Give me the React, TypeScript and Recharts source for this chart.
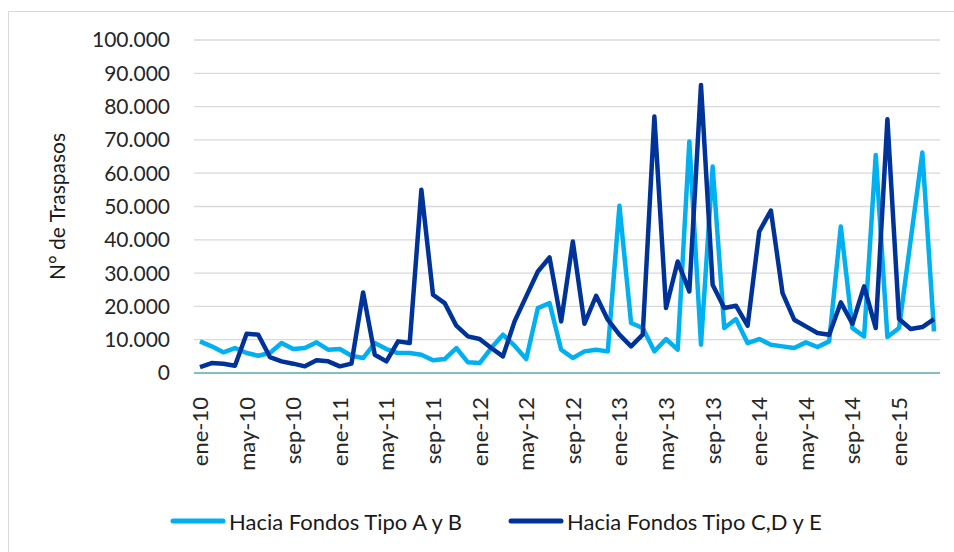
import { LineChart, Line, XAxis, YAxis, CartesianGrid, Legend } from 'recharts';

const MONTHS = ['ene', 'feb', 'mar', 'abr', 'may', 'jun', 'jul', 'ago', 'sep', 'oct', 'nov', 'dic'];
const YEARS = ['10', '11', '12', '13', '14', '15'];
const PERIODS = YEARS.flatMap(y => MONTHS.map(m => `${m}-${y}`)).slice(0, 64);

// Hacia Fondos Tipo A y B
const TIPO_AB = [
  9500, 8000, 6200, 7500, 6000, 5200, 6000, 9000, 7200, 7500, 9200, 7000,
  7200, 5200, 4500, 9000, 7200, 6000, 6000, 5500, 3800, 4200, 7500, 3200,
  3000, 7500, 11500, 8200, 4200, 19500, 21000, 7000, 4500, 6500, 7000, 6500,
  50200, 15000, 13500, 6500, 10200, 7000, 69500, 8500, 62000, 13500, 16200, 9000,
  10200, 8500, 8000, 7500, 9200, 7800, 9500, 44000, 13500, 11000, 65500, 10800,
  13500, 40000, 66200, 12500,
];

// Hacia Fondos Tipo C,D y E
const TIPO_CDE = [
  1800, 3000, 2800, 2200, 11800, 11500, 4800, 3500, 2800, 2000, 3800, 3500,
  2000, 2800, 24200, 5500, 3500, 9500, 9000, 55000, 23500, 21000, 14200, 11000,
  10200, 7500, 5000, 15500, 23000, 30500, 34700, 15500, 39500, 14800, 23200, 16000,
  11500, 8000, 11500, 77000, 19500, 33500, 24500, 86500, 26500, 19500, 20200, 14200,
  42500, 48800, 24000, 16000, 14000, 12000, 11500, 21200, 14800, 26000, 13500, 76200,
  16200, 13200, 13800, 16200,
];

const Y_TICKS = [0, 10000, 20000, 30000, 40000, 50000, 60000, 70000, 80000, 90000, 100000];

const SERIES = [
  { key: 'ab', name: 'Hacia Fondos Tipo A y B', color: '#00B0F0' },
  { key: 'cde', name: 'Hacia Fondos Tipo C,D y E', color: '#003399' },
];

const data = PERIODS.map((p, i) => ({ period: p, ab: TIPO_AB[i], cde: TIPO_CDE[i] }));

const FONT = 'Lato, "Open Sans", sans-serif';

const fmt = (v: number) => (v === 0 ? '0' : String(v).replace(/\B(?=(\d{3})+(?!\d))/g, '.'));

// eslint-disable-next-line @typescript-eslint/no-explicit-any
const XTick = (props: any) => {
  const { x, y, payload } = props;
  return (
    <g transform={`translate(${x},${y})`}>
      <text transform="rotate(-90)" textAnchor="end" dy="0.36em" fontSize={22} fontFamily={FONT} fill="#262626">
        {payload.value}
      </text>
    </g>
  );
};

const LegendContent = () => (
  <div style={{ display: 'flex', alignItems: 'center', marginLeft: 170, fontFamily: FONT, fontSize: 22, color: '#1a1a1a', height: 28 }}>
    {SERIES.map((s, i) => (
      <div key={s.key} style={{ display: 'flex', alignItems: 'center', marginRight: i === 0 ? 46 : 0 }}>
        <svg width={56} height={8} style={{ marginRight: 3 }}>
          <line x1={3} y1={4} x2={53} y2={4} stroke={s.color} strokeWidth={5} strokeLinecap="round" />
        </svg>
        <span>{s.name}</span>
      </div>
    ))}
  </div>
);

export default function App() {
  return (
    <div style={{ position: 'absolute', left: 0, top: 0, width: 954, height: 552, background: '#fff', overflow: 'hidden' }}>
      <div style={{ position: 'absolute', left: 8, top: 11, width: 980, height: 600, border: '1px solid #d9d9d9' }} />
      <LineChart
        width={954}
        height={552}
        data={data}
        margin={{ top: 40, right: 14, bottom: 51, left: 0 }}
        style={{ position: 'absolute', left: 0, top: 0 }}
      >
        <CartesianGrid vertical={false} stroke="#d9d9d9" strokeWidth={1.3} />
        <XAxis
          dataKey="period"
          interval={3}
          tickLine={false}
          axisLine={{ stroke: '#62b5b0', strokeWidth: 1.5 }}
          tick={<XTick />}
          tickMargin={18}
          height={100}
          padding={{ left: 6, right: 6 }}
        />
        <YAxis
          width={194}
          domain={[0, 100000]}
          ticks={Y_TICKS}
          tickFormatter={fmt}
          tickLine={false}
          axisLine={false}
          tickMargin={18}
          tick={{ fontSize: 21, fontFamily: FONT, fill: '#262626' }}
          label={{
            // eslint-disable-next-line @typescript-eslint/no-explicit-any
            content: (p: any) => {
              const cy = p.viewBox.y + p.viewBox.height / 2;
              return (
                <text
                  transform={`translate(${p.viewBox.x + 65},${cy}) rotate(-90)`}
                  textAnchor="middle"
                  fontSize={21}
                  fontFamily={FONT}
                  fill="#1a1a1a"
                >
                  N° de Traspasos
                </text>
              );
            },
          }}
        />
        <Legend
          verticalAlign="bottom"
          content={<LegendContent />}
          wrapperStyle={{ position: 'absolute', top: 507, left: 0, width: 954 }}
        />
        {SERIES.map(s => (
          <Line
            key={s.key}
            type="linear"
            dataKey={s.key}
            name={s.name}
            stroke={s.color}
            strokeWidth={4.5}
            strokeLinejoin="round"
            dot={false}
            activeDot={false}
            isAnimationActive={false}
          />
        ))}
      </LineChart>
    </div>
  );
}
